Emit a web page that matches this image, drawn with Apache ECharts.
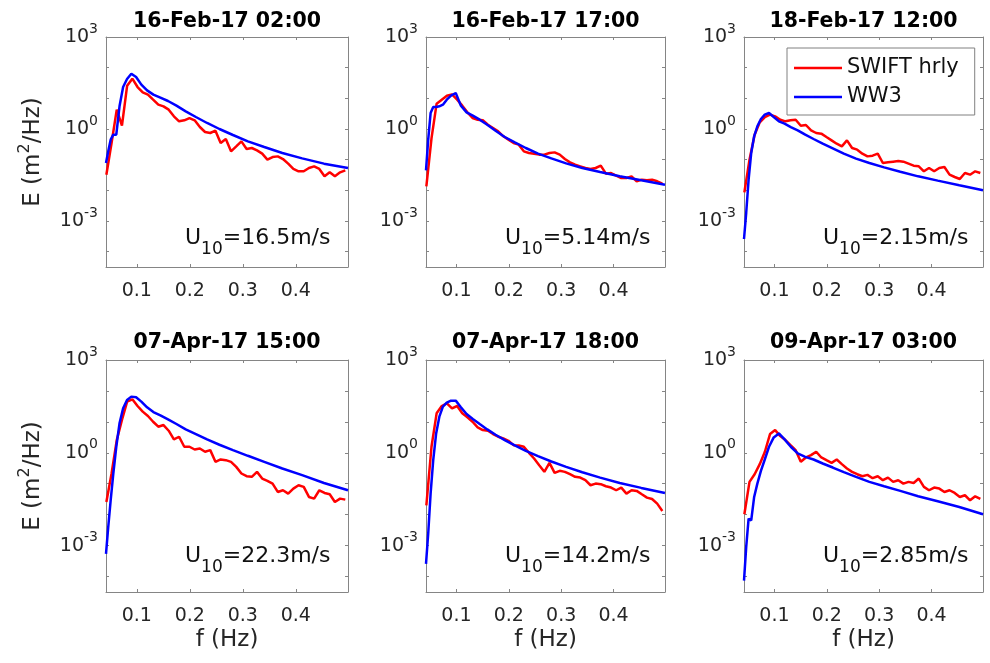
<!DOCTYPE html>
<html>
<head>
<meta charset="utf-8">
<script src="https://cdn.jsdelivr.net/npm/echarts@6/dist/echarts.min.js"></script>
<style>html,body{margin:0;padding:0;background:#fff}#c{width:990px;height:663px}</style>
</head>
<body>
<div id="c"></div>
<script>
// ---------------- data ----------------
const fSwift = [0.0425,0.0523,0.0621,0.0719,0.0817,0.0915,0.1013,0.1111,0.1209,0.1307,0.1405,0.1503,0.1601,0.1699,0.1797,0.1895,0.1993,0.2091,0.2189,0.2287,0.2385,0.2483,0.2581,0.2679,0.2777,0.2875,0.2973,0.3071,0.3169,0.3267,0.3365,0.3463,0.3561,0.3659,0.3757,0.3855,0.3953,0.4051,0.4149,0.4247,0.4345,0.4443,0.4541,0.4639,0.4737,0.4835,0.4933];
const fWW3 = [0.0418,0.0460,0.0506,0.0556,0.0612,0.0673,0.0741,0.0815,0.0896,0.0986,0.1085,0.1193,0.1312,0.1444,0.1588,0.1747,0.1922,0.2114,0.2325,0.2558,0.2813,0.3095,0.3404,0.3745,0.4119,0.4531,0.4984];

const panelTitles = ['16-Feb-17 02:00','16-Feb-17 17:00','18-Feb-17 12:00','07-Apr-17 15:00','07-Apr-17 18:00','09-Apr-17 03:00'];
const u10Values = ['16.5','5.14','2.15','22.3','14.2','2.85'];
const xTickValues = [0.1,0.2,0.3,0.4];
const yLabelDecades = [-3,0,3];
const seriesNames = ['SWIFT hrly','WW3'];

const swift1 = [0.0324,0.349,4.27,1.28,25.9,43.8,23.4,15.7,13.2,9.05,6.22,5.48,4.27,2.59,1.78,1.92,2.28,1.92,1.16,0.798,0.741,0.883,0.349,0.472,0.187,0.272,0.396,0.223,0.240,0.201,0.157,0.100,0.122,0.128,0.105,0.0741,0.0497,0.0417,0.0417,0.0535,0.0607,0.0497,0.0286,0.0386,0.0286,0.0386,0.0449];
const ww3_1 = [0.078,0.187,0.449,0.653,0.653,5.48,23.4,42.7,63.7,49.6,27.9,18.2,13.2,10.5,8.19,5.77,3.77,2.46,1.57,1.0,0.637,0.396,0.259,0.165,0.110,0.0741,0.0535];

const swift2 = [0.0135,0.496,6.70,9.05,12.2,13.5,9.05,5.77,3.49,2.28,2.01,1.92,1.38,1.08,0.839,0.577,0.449,0.349,0.308,0.187,0.165,0.157,0.146,0.146,0.165,0.173,0.146,0.105,0.0819,0.0687,0.0607,0.0535,0.0497,0.0535,0.0637,0.0349,0.0367,0.0301,0.0252,0.0252,0.0286,0.0197,0.0223,0.0212,0.0223,0.0197,0.0165];
const ww3_2 = [0.0449,0.449,3.32,5.22,5.22,5.48,6.22,9.05,12.2,14.9,5.77,3.49,2.72,2.01,1.38,0.883,0.548,0.367,0.240,0.157,0.110,0.0759,0.0535,0.0396,0.0286,0.0212,0.0153];

const swift3 = [0.00861,0.100,0.653,1.65,2.46,2.93,2.59,2.01,1.78,1.92,2.01,1.28,1.35,0.906,0.741,0.705,0.548,0.427,0.332,0.272,0.427,0.240,0.212,0.157,0.128,0.135,0.157,0.0778,0.0819,0.0861,0.0905,0.0861,0.0741,0.0637,0.0607,0.0417,0.0535,0.0417,0.0535,0.0577,0.0324,0.0272,0.0234,0.0367,0.0324,0.0417,0.0367];
const ww3_3 = [2.59e-4,1.82e-3,0.0223,0.165,0.577,1.22,2.12,2.93,3.32,2.46,1.78,1.49,1.16,0.906,0.653,0.472,0.332,0.234,0.157,0.108,0.0778,0.0562,0.0406,0.0286,0.0207,0.0146,0.0100];

const swift4 = [0.0258,0.214,2.58,11.5,45.1,53.7,32.6,21.4,15.5,10.1,6.97,7.89,5.17,2.71,3.30,1.57,1.57,1.28,1.38,1.08,1.22,0.511,0.608,0.578,0.511,0.351,0.214,0.175,0.167,0.242,0.147,0.124,0.101,0.0543,0.0615,0.0480,0.0697,0.0894,0.0789,0.0374,0.0330,0.0615,0.0504,0.0456,0.0258,0.0330,0.0306];
const ww3_4 = [5.43e-4,3.98e-3,0.0292,0.214,1.57,8.94,27.4,51.1,65.5,62.3,45.1,29.5,20.8,16.2,12.1,8.51,5.71,4.03,2.71,1.82,1.22,0.80,0.511,0.310,0.189,0.106,0.0615];

const swift5 = [0.0201,1.57,18.9,32.6,39.8,27.4,32.6,18.9,14.0,10.1,6.63,5.43,5.17,4.03,3.30,2.92,2.45,1.77,1.73,1.57,1.0,0.655,0.398,0.242,0.474,0.225,0.261,0.242,0.203,0.167,0.158,0.130,0.0894,0.101,0.0967,0.0830,0.0751,0.0615,0.0751,0.0480,0.0615,0.0586,0.0456,0.0356,0.0322,0.0227,0.0132];
const ww3_5 = [2.58e-4,2.42e-3,0.0480,0.578,4.24,14.7,31.0,41.8,48.6,48.6,29.5,17.9,12.4,8.51,5.71,3.84,2.58,1.73,1.16,0.780,0.524,0.351,0.236,0.158,0.106,0.0733,0.0504];

const swift6 = [0.0103,0.115,0.203,0.429,1.08,4.03,5.43,3.47,2.58,1.77,1.22,0.511,0.706,0.840,1.08,0.706,0.578,0.474,0.608,0.429,0.310,0.242,0.203,0.175,0.193,0.151,0.175,0.130,0.158,0.115,0.130,0.101,0.115,0.106,0.147,0.0789,0.0615,0.0751,0.0697,0.0543,0.0615,0.0504,0.0374,0.0424,0.0292,0.0393,0.0322];
const ww3_6 = [7.41e-5,8.94e-4,7.41e-3,6.55e-3,0.0374,0.101,0.261,0.608,1.57,3.14,4.24,2.71,1.57,0.951,0.741,0.608,0.451,0.334,0.236,0.167,0.115,0.0830,0.0586,0.0393,0.0271,0.0177,0.0103];

const swiftSets = [swift1, swift2, swift3, swift4, swift5, swift6];
const ww3Sets = [ww3_1, ww3_2, ww3_3, ww3_4, ww3_5, ww3_6];

// axis limits
const xMin = 0.0418, xMax = 0.4984;
const yMin = 3.1623e-5, yMax = 1000;

// ---------------- layout / style ----------------
const FONT = 'DejaVu Sans';
const AX = '#858585';
const TXT = '#262626';
const RED = '#ff0000';
const BLUE = '#0000ff';

const grids = [
  {left:106, top:37, width:242, height:230},
  {left:426, top:37, width:239, height:230},
  {left:744, top:37, width:239, height:230},
  {left:106, top:360, width:242, height:232},
  {left:426, top:360, width:239, height:232},
  {left:744, top:360, width:239, height:232}
];

function decadeLabel(v) {
  const p = Math.log10(v);
  const n = Math.round(p);
  if (Math.abs(p - n) > 1e-6 || yLabelDecades.indexOf(n) < 0) return '';
  return '{b|10}{s|' + n + '}';
}

const xAxes = [], yAxes = [], series = [], graphics = [];

grids.forEach((g, i) => {
  g.outerBoundsMode = 'none';
  g.containLabel = false;
  const bottomRow = i >= 3;
  const firstCol = i % 3 === 0;
  const lineCommon = {show:true, onZero:false, lineStyle:{color:AX, width:1}};
  xAxes.push({
    gridIndex:i, type:'value', position:'bottom', min:xMin, max:xMax,
    name: bottomRow ? 'f (Hz)' : '', nameLocation:'middle', nameGap:37,
    nameTextStyle:{fontFamily:FONT, fontSize:23, color:TXT},
    axisLine: lineCommon,
    axisTick:{show:true, inside:true, length:3, customValues:xTickValues, lineStyle:{color:AX}},
    axisLabel:{show:true, customValues:xTickValues, formatter:(v)=>Number(v).toFixed(1), margin:15,
               fontFamily:FONT, fontSize:19, color:TXT},
    splitLine:{show:false}
  });
  xAxes.push({
    gridIndex:i, type:'value', position:'top', min:xMin, max:xMax,
    axisLine: lineCommon,
    axisTick:{show:true, inside:true, length:3, customValues:xTickValues, lineStyle:{color:AX}},
    axisLabel:{show:false}, splitLine:{show:false}
  });
  yAxes.push({
    gridIndex:i, type:'log', logBase:10, position:'left', min:yMin, max:yMax,
    name: firstCol ? '{a|E (m}{s|2}{a|/Hz)}' : '', nameLocation:'middle', nameRotate:90, nameGap:60,
    nameTextStyle:{color:TXT, rich:{
      a:{fontFamily:FONT, fontSize:23, color:TXT, lineHeight:26},
      s:{fontFamily:FONT, fontSize:16, color:TXT, lineHeight:26, padding:[0,0,16,0]}
    }},
    axisLine: lineCommon,
    axisTick:{show:true, inside:true, length:3, lineStyle:{color:AX}},
    axisLabel:{show:true, formatter:decadeLabel, margin:8, rich:{
      b:{fontFamily:FONT, fontSize:19, color:TXT, lineHeight:22},
      s:{fontFamily:FONT, fontSize:14, color:TXT, lineHeight:22, padding:[0,0,16,0]}
    }},
    splitLine:{show:false}
  });
  yAxes.push({
    gridIndex:i, type:'log', logBase:10, position:'right', min:yMin, max:yMax,
    axisLine: lineCommon,
    axisTick:{show:true, inside:true, length:3, lineStyle:{color:AX}},
    axisLabel:{show:false}, splitLine:{show:false}
  });
  series.push({
    type:'line', name:seriesNames[0], xAxisIndex:2*i, yAxisIndex:2*i,
    data: fSwift.map((f, k) => [f, swiftSets[i][k]]),
    showSymbol:false, symbol:'none', clip:true,
    lineStyle:{color:RED, width:2.5}, itemStyle:{color:RED}
  });
  series.push({
    type:'line', name:seriesNames[1], xAxisIndex:2*i, yAxisIndex:2*i,
    data: fWW3.map((f, k) => [f, ww3Sets[i][k]]),
    showSymbol:false, symbol:'none', clip:true,
    lineStyle:{color:BLUE, width:2.5}, itemStyle:{color:BLUE}
  });
  // panel title
  graphics.push({
    type:'text', x: g.left + g.width / 2, y: bottomRow ? 343 : 21.5,
    style:{text: panelTitles[i], font:'bold 20.5px "DejaVu Sans"', fill:'#000',
           align:'center', verticalAlign:'middle'}
  });
  // wind speed annotation
  graphics.push({
    type:'text', x: g.left + 79, y: bottomRow ? 556 : 238,
    style:{text:'{u|U}{s|10}{u|=' + u10Values[i] + 'm/s}', fill:'#111',
           align:'left', verticalAlign:'middle',
           rich:{
             u:{font:'22px "DejaVu Sans"', fill:'#111', lineHeight:26},
             s:{font:'17px "DejaVu Sans"', fill:'#111', lineHeight:26, padding:[24,0,0,0]}
           }}
  });
});

const option = {
  animation:false,
  backgroundColor:'#fff',
  textStyle:{fontFamily:FONT},
  grid: grids,
  xAxis: xAxes,
  yAxis: yAxes,
  legend:{
    show:true, data: seriesNames, orient:'vertical', left:787, top:48,
    icon:'rect', itemWidth:48, itemHeight:2.5, itemGap:3,
    padding:[7,16,5,7], borderColor:'#808080', borderWidth:1, backgroundColor:'#fff',
    textStyle:{fontFamily:FONT, fontSize:21, color:'#111', lineHeight:26},
    selectedMode:false
  },
  series: series,
  graphic: graphics
};

const chart = echarts.init(document.getElementById('c'), null, {renderer:'canvas'});
chart.setOption(option);
</script>
</body>
</html>
